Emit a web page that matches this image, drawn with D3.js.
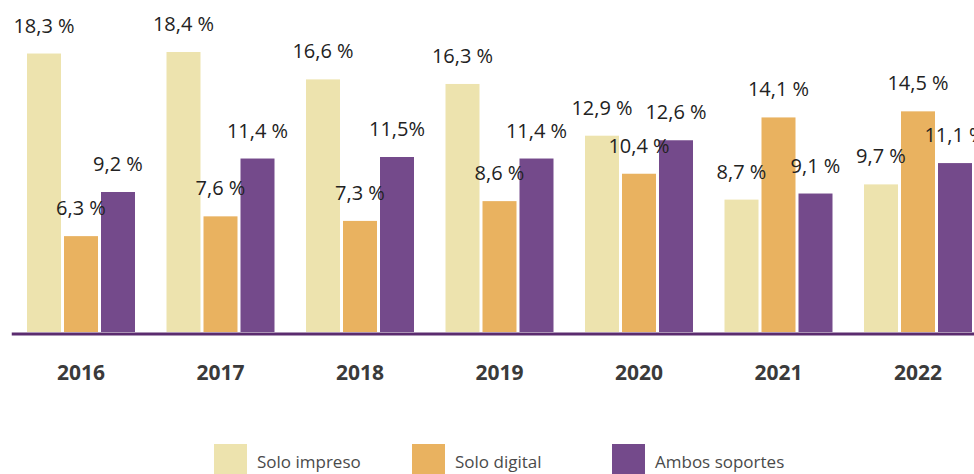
<!DOCTYPE html>
<meta charset="utf-8">
<style>
body { margin: 0; background: #fff; }
.axis text { font-family: "Open Sans", sans-serif; font-weight: 700; font-size: 21px; fill: #3a3a3a; }
.value { font-family: "Open Sans", sans-serif; font-size: 20px; fill: #222; text-anchor: middle; }
.legend text { font-family: "Open Sans", sans-serif; font-size: 17px; fill: #4a4a4a; }
</style>
<svg width="974" height="474"></svg>
<script src="https://d3js.org/d3.v7.min.js"></script>
<script>

const years = ["2016", "2017", "2018", "2019", "2020", "2021", "2022"];
const seriesNames = ["Solo impreso", "Solo digital", "Ambos soportes"];
const soloImpreso = [18.3, 18.4, 16.6, 16.3, 12.9, 8.7, 9.7];
const soloDigital = [6.3, 7.6, 7.3, 8.6, 10.4, 14.1, 14.5];
const ambosSoportes = [9.2, 11.4, 11.5, 11.4, 12.6, 9.1, 11.1];
const colors = ["#ede3ae", "#e9b260", "#744a8b"];

const svg = d3.select("svg"),
    baseline = 332;

const values = [soloImpreso, soloDigital, ambosSoportes];
const data = years.map((y, i) => ({
  year: y,
  items: seriesNames.map((s, k) => ({series: s, value: values[k][i], k: k}))
}));

const x0 = d3.scaleBand()
    .domain(years)
    .range([11.25, 987.75]);

const x1 = d3.scaleBand()
    .domain(seriesNames)
    .range([-54, 54])
    .paddingInner(3 / 37);

const yScale = d3.scaleLinear()
    .domain([0, 18.4])
    .range([baseline, 52]);

const fmt = d3.formatLocale({decimal: ",", thousands: ".", grouping: [3], currency: ["", ""]}).format(".1f");
// the 2018 "ambos" label has no space before the percent sign in the original
const label = (d, year) => fmt(d.value) + (year === "2018" && d.k === 2 ? "%" : " %");

const groups = svg.selectAll("g.group")
  .data(data)
  .enter().append("g")
    .attr("class", "group")
    .attr("transform", d => "translate(" + (x0(d.year) + x0.bandwidth() / 2) + ",0)");

groups.selectAll("rect")
  .data(d => d.items)
  .enter().append("rect")
    .attr("x", d => x1(d.series))
    .attr("y", d => yScale(d.value))
    .attr("width", x1.bandwidth())
    .attr("height", d => baseline - yScale(d.value))
    .attr("fill", d => colors[d.k]);

groups.selectAll("text.value")
  .data(d => d.items.map(it => Object.assign({year: d.year}, it)))
  .enter().append("text")
    .attr("class", "value")
    .attr("x", d => x1(d.series) + x1.bandwidth() / 2)
    .attr("y", d => yScale(d.value) - 21)
    .text(d => label(d, d.year));

const axis = svg.append("g")
    .attr("class", "axis")
    .attr("transform", "translate(0," + (baseline + 1.5) + ")")
    .call(d3.axisBottom(x0).tickSize(0).tickSizeOuter(0));

axis.select(".domain")
    .attr("stroke", "#5b2c6f")
    .attr("stroke-width", 3);

axis.selectAll(".tick text")
    .attr("y", 46.5)
    .attr("dy", 0);

const legendX = [214, 412, 612];
const legend = svg.append("g")
    .attr("class", "legend")
  .selectAll("g")
  .data(seriesNames)
  .enter().append("g")
    .attr("transform", (d, i) => "translate(" + legendX[i] + ",444)");

legend.append("rect")
    .attr("width", 33)
    .attr("height", 30)
    .attr("fill", (d, i) => colors[i]);

legend.append("text")
    .attr("x", 43)
    .attr("y", 24)
    .text(d => d);

</script>
